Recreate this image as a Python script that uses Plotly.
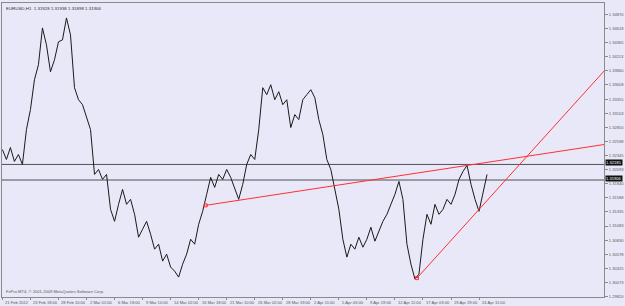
import plotly.graph_objects as go

# ---------------- data ----------------
title_text = "EURUSD,H1  1.31928 1.31938 1.31898 1.31906"
copyright_text = "FxPro MT4, \u00a9 2001-2009 MetaQuotes Software Corp."

x_labels = ["21 Feb 2012", "23 Feb 18:00", "28 Feb 10:00", "2 Mar 02:00", "6 Mar 18:00",
            "9 Mar 10:00", "14 Mar 02:00", "16 Mar 18:00", "21 Mar 10:00", "26 Mar 02:00",
            "28 Mar 19:00", "2 Apr 11:00", "5 Apr 03:00", "9 Apr 19:00", "12 Apr 11:00",
            "17 Apr 03:00", "19 Apr 19:00", "24 Apr 11:00"]
samples_per_label = 7

y_tick_labels = ["1.34870", "1.34618", "1.34365", "1.34113", "1.33860", "1.33608", "1.33355",
                 "1.33103", "1.32850", "1.32598", "1.32345", "1.32093", "1.31840", "1.31588",
                 "1.31335", "1.31083", "1.30830", "1.30578", "1.30325", "1.30073", "1.29820"]

close = [1.32452, 1.32274, 1.32488, 1.32238, 1.32363, 1.32185, 1.32809, 1.33166, 1.33701, 1.33969,
         1.34629, 1.34326, 1.33844, 1.34058, 1.34380, 1.34415, 1.34808, 1.34504, 1.33559, 1.33344,
         1.33255, 1.33023, 1.32809, 1.32006, 1.32095, 1.31917, 1.32006, 1.31382, 1.31167, 1.31471,
         1.31738, 1.31471, 1.31560, 1.31292, 1.30882, 1.31025, 1.31167, 1.30935, 1.30668, 1.30757,
         1.30454, 1.30579, 1.30347, 1.30275, 1.30168, 1.30400, 1.30579, 1.30846, 1.30757, 1.31114,
         1.31346, 1.31649, 1.31953, 1.31774, 1.32006, 1.31917, 1.32095, 1.31953, 1.31738, 1.31560,
         1.31828, 1.32185, 1.32363, 1.32274, 1.32809, 1.33559, 1.33434, 1.33612, 1.33344, 1.33487,
         1.33255, 1.33344, 1.32845, 1.33077, 1.32988, 1.33344, 1.33434, 1.33523, 1.33380, 1.32988,
         1.32720, 1.32274, 1.32095, 1.31738, 1.31382, 1.30846, 1.30525, 1.30757, 1.30668, 1.30882,
         1.30703, 1.30846, 1.31060, 1.30811, 1.30989, 1.31167, 1.31292, 1.31471, 1.31649, 1.31881,
         1.31560, 1.30757, 1.30400, 1.30132, 1.30222, 1.30846, 1.31292, 1.31114, 1.31471, 1.31292,
         1.31382, 1.31560, 1.31471, 1.31649, 1.31917, 1.32060, 1.32167, 1.31828, 1.31560, 1.31346,
         1.31649, 1.32006]

# trend lines: (start index, start price), (second anchor index, price) - rays to the right
trend1 = [(50.75, 1.31453), (116.0, 1.32167)]
trend2 = [(103.5, 1.30150), (119.0, 1.31380)]

# horizontal lines (price levels)
hlines = [1.32185, 1.31906]
hline_labels = ["1.32185", "1.31906"]

# ---------------- figure ----------------
bg = "#E8E8F8"
axis_col = "#8A8A8A"
txt_col = "#5A5A5A"
font_family = "Liberation Sans"
fs = 4.1

x_min, x_max = -0.1, 150.2
y_min, y_max = 1.29812, 1.35075

fig = go.Figure()

for lvl in hlines:
    fig.add_trace(go.Scatter(x=[x_min, x_max], y=[lvl, lvl], mode="lines",
                             line=dict(color="#505050", width=1), hoverinfo="skip"))

fig.add_trace(go.Scatter(x=list(range(len(close))), y=close, mode="lines",
                         line=dict(color="#1A1A1A", width=1)))

for (a, b) in (trend1, trend2):
    slope = (b[1] - a[1]) / (b[0] - a[0])
    end_y = b[1] + slope * (x_max - b[0])
    fig.add_trace(go.Scatter(x=[a[0], x_max], y=[a[1], end_y], mode="lines",
                             line=dict(color="#FF3030", width=1), hoverinfo="skip"))
    fig.add_trace(go.Scatter(x=[a[0]], y=[a[1]], mode="markers",
                             marker=dict(symbol="square-open", size=3, color="#FF3030",
                                         line=dict(width=1, color="#FF3030")),
                             hoverinfo="skip"))

annotations = []
for k, lab in enumerate(x_labels):
    annotations.append(dict(x=k * samples_per_label, y=0, xref="x", yref="paper",
                            text=lab, showarrow=False, xanchor="left", yanchor="top",
                            xshift=1, yshift=-1,
                            font=dict(size=fs, color=txt_col, family=font_family)))

for lvl, lab in zip(hlines, hline_labels):
    annotations.append(dict(x=1, y=lvl, xref="paper", yref="y", text=lab, showarrow=False,
                            xanchor="left", yanchor="middle", xshift=1, yshift=1.5,
                            bgcolor="#101010", borderpad=0,
                            font=dict(size=fs, color="#FFFFFF", family=font_family)))

annotations.append(dict(x=0, y=1, xref="paper", yref="paper", text=title_text,
                        showarrow=False, xanchor="left", yanchor="top", xshift=2, yshift=-1,
                        font=dict(size=4.4, color="#303030", family=font_family)))
annotations.append(dict(x=0, y=0, xref="paper", yref="paper", text=copyright_text,
                        showarrow=False, xanchor="left", yanchor="bottom", xshift=2, yshift=1,
                        font=dict(size=fs, color=txt_col, family=font_family)))

fig.update_layout(
    width=625, height=306,
    margin=dict(l=1, r=18, t=3, b=9),
    paper_bgcolor=bg, plot_bgcolor=bg,
    showlegend=False,
    annotations=annotations,
    xaxis=dict(range=[x_min, x_max], showgrid=False, zeroline=False,
               showline=True, linecolor=axis_col, linewidth=1, mirror=True,
               tickvals=[k * samples_per_label for k in range(len(x_labels))],
               ticks="outside", ticklen=2, tickcolor=axis_col, showticklabels=False),
    yaxis=dict(range=[y_min, y_max], side="right", showgrid=False, zeroline=False,
               showline=True, linecolor=axis_col, linewidth=1, mirror=True,
               tickvals=[float(v) for v in y_tick_labels], ticktext=y_tick_labels,
               ticks="outside", ticklen=3, tickcolor=axis_col,
               tickfont=dict(size=fs, color=txt_col, family=font_family)),
)

fig.write_html("out.html")
